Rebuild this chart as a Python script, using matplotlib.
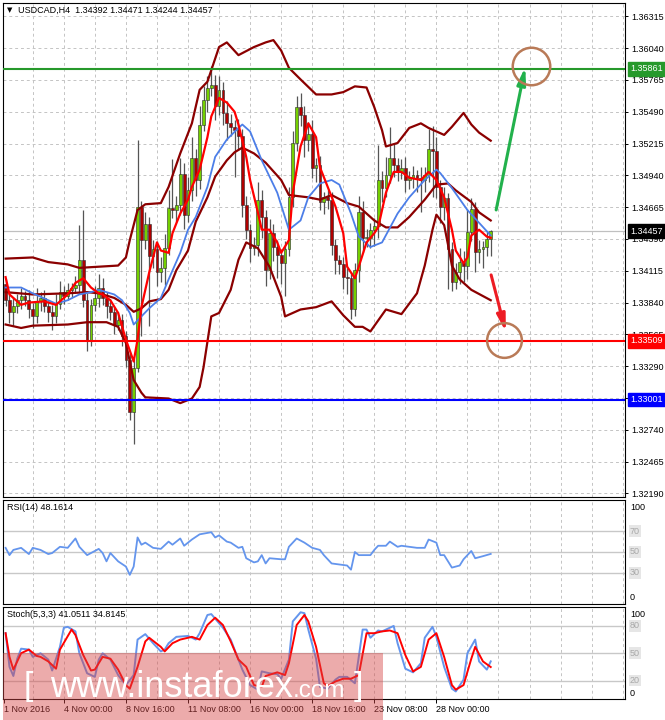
import matplotlib
matplotlib.use("Agg")
import matplotlib.pyplot as plt
import matplotlib.transforms as mtransforms
from matplotlib.patches import Rectangle

plt.rcParams['font.family'] = ['Liberation Sans', 'DejaVu Sans']

# ---- price data (USDCAD H4) ----
first_open = 1.3400
closes = [
    1.3386, 1.3376, 1.3381, 1.3386, 1.3390, 1.3386, 1.3378, 1.3372, 1.3385, 1.3388,
    1.3381, 1.3376, 1.3372, 1.3383, 1.3393, 1.3390, 1.3395, 1.3397, 1.3399, 1.3421,
    1.3386, 1.3352, 1.3382, 1.3388, 1.3397, 1.3388, 1.3381, 1.3376, 1.3365, 1.3369,
    1.3355, 1.3334, 1.3289, 1.3327, 1.3467, 1.3438, 1.3452, 1.3424, 1.3430, 1.3410,
    1.3414, 1.3431, 1.3466, 1.3464, 1.3468, 1.3495, 1.3460, 1.3481, 1.3509, 1.3490,
    1.3538, 1.3559, 1.3570, 1.3572, 1.3554, 1.3568, 1.3548, 1.3539, 1.3536, 1.3533,
    1.3528, 1.3468, 1.3447, 1.3431, 1.3434, 1.3473, 1.3458, 1.3412, 1.3444, 1.3432,
    1.3425, 1.3418, 1.3430, 1.3475, 1.3522, 1.3553, 1.3546, 1.3525, 1.3530, 1.3500,
    1.3503, 1.3471, 1.3475, 1.3473, 1.3434, 1.3421, 1.3417, 1.3406, 1.3405, 1.3378,
    1.3412, 1.3462, 1.3440, 1.3440, 1.3447, 1.3450, 1.3490, 1.3483, 1.3494, 1.3509,
    1.3503, 1.3497, 1.3500, 1.3490, 1.3492, 1.3494, 1.3492, 1.3490, 1.3494, 1.3517,
    1.3515, 1.3484, 1.3467, 1.3474, 1.3430, 1.3402, 1.3410, 1.3419, 1.3416, 1.3445,
    1.3465, 1.3428, 1.3430, 1.3432, 1.34392, 1.34457,
]
# wick length above / below the body, in pips
wick_hi = [
    4, 6, 8, 5, 7, 4, 9, 6, 12, 5,
    7, 4, 6, 8, 10, 5, 6, 4, 8, 30,
    43, 6, 5, 10, 12, 8, 5, 6, 4, 7,
    5, 4, 6, 8, 58, 5, 10, 6, 8, 7,
    9, 12, 15, 42, 8, 14, 10, 12, 18, 8,
    16, 12, 10, 17, 9, 12, 7, 10, 8, 6,
    10, 6, 8, 5, 7, 15, 8, 6, 12, 8,
    6, 5, 7, 9, 10, 10, 12, 8, 10, 12,
    6, 8, 5, 6, 7, 5, 4, 6, 8, 5,
    6, 14, 10, 8, 6, 7, 30, 8, 16, 27,
    12, 6, 8, 10, 6, 8, 5, 9, 7, 17,
    20, 12, 6, 10, 5, 6, 8, 12, 10, 20,
    9, 6, 8, 5, 7, 1.4,
]
wick_lo = [
    5, 10, 12, 6, 8, 5, 7, 10, 6, 8,
    5, 9, 12, 6, 5, 7, 4, 6, 5, 8,
    6, 10, 6, 5, 8, 6, 10, 7, 8, 5,
    9, 6, 7, 27, 3, 83, 8, 60, 10, 12,
    8, 15, 6, 7, 10, 8, 12, 6, 9, 14,
    8, 6, 10, 7, 12, 8, 10, 14, 8, 40,
    12, 10, 8, 12, 6, 10, 18, 14, 8, 12,
    20, 18, 28, 6, 8, 7, 9, 15, 10, 8,
    12, 7, 10, 8, 9, 12, 8, 10, 14, 8,
    6, 10, 12, 8, 9, 14, 10, 12, 8, 7,
    10, 8, 6, 10, 8, 9, 12, 28, 10, 6,
    40, 10, 14, 12, 34, 8, 6, 10, 14, 12,
    8, 18, 10, 16, 8, 14.8,
]

# ---- indicator lines (bar index, value) ----
bb_up_i = [0, 7, 11, 16, 19, 24, 29, 31, 32, 34, 36, 40, 42, 45, 48, 50, 52, 53, 55, 57,
           60, 64, 67, 69, 71, 73, 76, 80, 84, 87, 90, 93, 95, 97, 98, 101, 104, 107, 109, 113,
           115, 118, 120, 122, 125]
bb_up = [1.3422, 1.3423, 1.3419, 1.3417, 1.3414, 1.3415, 1.3416, 1.3423, 1.3438, 1.3464,
         1.3469, 1.3470, 1.3484, 1.3513, 1.3539, 1.3568, 1.3575, 1.3585, 1.3605, 1.3609,
         1.3598, 1.3605, 1.3609, 1.3611, 1.3602, 1.3587, 1.3577, 1.3564, 1.3564, 1.3566,
         1.3571, 1.3570, 1.3553, 1.3533, 1.3519, 1.3522, 1.3535, 1.3539, 1.3535, 1.3529,
         1.3536, 1.3548, 1.3538, 1.3531, 1.3524]
bb_mid_i = [0, 7, 16, 21, 24, 28, 31, 33, 35, 37, 40, 42, 44, 47, 49, 52, 54, 57, 59, 61,
            64, 67, 71, 73, 78, 81, 84, 88, 91, 95, 98, 101, 104, 108, 111, 114, 116, 120, 122, 125]
bb_mid = [1.3393, 1.3391, 1.3392, 1.3393, 1.3392, 1.3388, 1.3382, 1.3376, 1.3379, 1.3385,
          1.3387, 1.3395, 1.3412, 1.3429, 1.3454, 1.3475, 1.3493, 1.3507, 1.3514, 1.3518,
          1.3513, 1.3505, 1.3490, 1.3477, 1.3475, 1.3473, 1.3477, 1.3470, 1.3467, 1.3455,
          1.3449, 1.3449, 1.3458, 1.3473, 1.3486, 1.3487, 1.3481, 1.3471, 1.3462, 1.3455]
bb_lo_i = [0, 4, 7, 16, 21, 26, 29, 31, 33, 35, 36, 42, 45, 48, 50, 51, 53, 55, 58, 60,
           62, 65, 68, 71, 72, 76, 80, 84, 87, 90, 92, 94, 98, 102, 106, 108, 110, 111, 113, 114,
           115, 117, 120, 125]
bb_lo = [1.3365, 1.3362, 1.3364, 1.3365, 1.3367, 1.3367, 1.3363, 1.3349, 1.3317, 1.3306,
         1.3302, 1.3301, 1.3297, 1.3301, 1.3311, 1.3328, 1.3372, 1.3375, 1.3395, 1.3421,
         1.3436, 1.3431, 1.3415, 1.3389, 1.3372, 1.3378, 1.3380, 1.3385, 1.3373, 1.3363,
         1.3363, 1.3359, 1.3378, 1.3374, 1.3392, 1.3416, 1.3447, 1.3460, 1.3451, 1.3434,
         1.3416, 1.3404, 1.3395, 1.3386]
blue_i = [0, 4, 7, 11, 13, 16, 19, 22, 24, 28, 30, 32, 33, 35, 37, 40, 42, 45, 47, 49,
          52, 54, 57, 60, 61, 63, 66, 70, 73, 76, 78, 81, 84, 86, 89, 91, 94, 97, 101, 104,
          108, 111, 112, 115, 119, 122, 125]
blue_ma = [1.3397, 1.3397, 1.3392, 1.3386, 1.3383, 1.3386, 1.3391, 1.3393, 1.3395, 1.3391,
           1.3386, 1.3375, 1.3365, 1.3372, 1.3379, 1.3388, 1.3404, 1.3427, 1.3447, 1.3458,
           1.3484, 1.3510, 1.3525, 1.3535, 1.3538, 1.3532, 1.3507, 1.3479, 1.3447, 1.3455,
           1.3475, 1.3487, 1.3490, 1.3486, 1.3461, 1.3441, 1.3432, 1.3436, 1.3461, 1.3475,
           1.3490, 1.3499, 1.3496, 1.3483, 1.3464, 1.3453, 1.3442]
red_i = [0, 1, 4, 6, 10, 13, 16, 18, 20, 22, 24, 25, 27, 29, 31, 33, 34, 35, 37, 39,
         40, 42, 43, 45, 47, 48, 50, 52, 53, 55, 57, 59, 60, 62, 63, 65, 66, 68, 70, 71,
         73, 74, 76, 78, 80, 81, 83, 85, 87, 88, 90, 91, 93, 95, 96, 98, 100, 102, 104, 107,
         109, 111, 113, 115, 116, 118, 119, 120, 122, 124, 125]
red_ma = [1.3406, 1.3391, 1.3382, 1.3384, 1.3385, 1.3382, 1.3391, 1.3401, 1.3405, 1.3397,
          1.3392, 1.3391, 1.3386, 1.3375, 1.3352, 1.3333, 1.3352, 1.3380, 1.3410, 1.3436,
          1.3429, 1.3427, 1.3444, 1.3461, 1.3473, 1.3484, 1.3499, 1.3527, 1.3545, 1.3561,
          1.3557, 1.3549, 1.3538, 1.3510, 1.3490, 1.3462, 1.3447, 1.3447, 1.3436, 1.3427,
          1.3438, 1.3479, 1.3519, 1.3539, 1.3527, 1.3501, 1.3484, 1.3467, 1.3444, 1.3415,
          1.3405, 1.3415, 1.3436, 1.3444, 1.3449, 1.3479, 1.3497, 1.3497, 1.3492, 1.3490,
          1.3497, 1.3490, 1.3475, 1.3447, 1.3429, 1.3418, 1.3423, 1.3442, 1.3447, 1.3441,
          1.3440]

rsi_i = [0, 1, 2, 4, 6, 7, 9, 11, 12, 14, 16, 18, 19, 21, 24, 25, 26, 27, 29, 31,
         32, 33, 34, 35, 36, 38, 40, 42, 43, 45, 46, 48, 50, 53, 54, 55, 57, 58, 60, 61,
         62, 64, 65, 66, 67, 68, 71, 72, 73, 75, 77, 79, 81, 82, 84, 86, 88, 89, 90, 91,
         94, 95, 96, 98, 99, 101, 102, 104, 106, 108, 109, 111, 112, 113, 115, 117, 118, 120, 121, 123,
         125]
rsi = [54, 47, 52, 54, 48, 54, 52, 48, 49, 55, 54, 63, 55, 47, 53, 49, 41, 49, 41, 36,
       28, 36, 64, 57, 59, 54, 53, 60, 57, 63, 56, 62, 67, 69, 64, 66, 60, 59, 54, 55,
       44, 40, 41, 47, 39, 44, 43, 43, 55, 63, 59, 54, 52, 47, 39, 38, 37, 33, 50, 47,
       47, 52, 56, 56, 60, 55, 56, 55, 54, 54, 62, 59, 47, 47, 35, 37, 43, 51, 44, 46,
       48.1614]

k_i = [0, 1, 2, 3, 4, 6, 7, 9, 11, 12, 14, 15, 16, 18, 19, 21, 23, 24, 25, 27,
       29, 31, 33, 34, 36, 38, 40, 41, 42, 44, 47, 49, 50, 52, 53, 56, 58, 60, 61, 63,
       65, 66, 68, 70, 71, 73, 74, 76, 77, 78, 80, 81, 83, 85, 86, 88, 90, 91, 92, 93,
       94, 96, 97, 100, 101, 103, 105, 107, 108, 110, 111, 113, 115, 116, 118, 119, 121, 122, 124, 125]
stoch_k = [72, 35, 25, 44, 55, 54, 46, 50, 43, 31, 57, 78, 79, 74, 50, 28, 24, 43, 50, 43,
           26, 15, 26, 65, 71, 61, 52, 54, 61, 68, 69, 65, 72, 92, 93, 78, 65, 43, 32, 15,
           10, 30, 28, 27, 22, 43, 85, 95, 94, 76, 44, 13, 11, 21, 24, 24, 17, 46, 76, 76,
           67, 75, 74, 80, 61, 33, 29, 39, 67, 79, 68, 35, 11, 8, 21, 50, 65, 41, 32, 41.0511]
d_i = [0, 1, 2, 4, 6, 8, 9, 11, 13, 14, 17, 18, 20, 22, 23, 25, 27, 29, 31, 32,
       34, 36, 37, 40, 41, 43, 45, 48, 50, 52, 54, 56, 58, 60, 62, 64, 66, 67, 70, 72,
       73, 75, 77, 78, 80, 82, 83, 85, 87, 89, 91, 93, 95, 97, 99, 101, 103, 105, 107, 109,
       111, 113, 115, 116, 118, 120, 121, 123, 125]
stoch_d = [72, 46, 32, 50, 54, 47, 46, 41, 33, 54, 76, 70, 48, 31, 32, 46, 44, 32, 15, 11,
           35, 63, 67, 57, 52, 61, 65, 68, 65, 81, 89, 81, 63, 43, 35, 15, 13, 25, 29, 26,
           39, 81, 92, 85, 57, 17, 14, 19, 22, 22, 26, 72, 72, 74, 75, 72, 48, 30, 35, 65,
           72, 46, 15, 10, 15, 44, 57, 41, 34.8145]

# ---- levels and axis labels ----
resistance = 1.35861
support = 1.33509
support2 = 1.33001
price_ticks = [1.32190, 1.32465, 1.32740, 1.33015, 1.33290, 1.33565, 1.33840, 1.34115,
               1.34390, 1.34665, 1.34940, 1.35215, 1.35490, 1.35765, 1.36040, 1.36315]
hidden_ticks = [1.33015]   # sits under the blue level box
date_pos = [-0.5, 15, 31, 47, 63, 79, 95, 111]
date_labels = ['1 Nov 2016', '4 Nov 00:00', '8 Nov 16:00', '11 Nov 08:00',
               '16 Nov 00:00', '18 Nov 16:00', '23 Nov 08:00', '28 Nov 00:00']

opens = [first_open] + closes[:-1]
bars = list(range(len(closes)))
pip = 0.0001
highs = [max(o, c) + w * pip for o, c, w in zip(opens, closes, wick_hi)]
lows = [min(o, c) - w * pip for o, c, w in zip(opens, closes, wick_lo)]

W, H = 665, 720
fig = plt.figure(figsize=(W / 100, H / 100), dpi=100)
fig.patch.set_facecolor('white')


def px_axes(left, top, right, bottom):
    return fig.add_axes([left / W, 1 - bottom / H, (right - left) / W, (bottom - top) / H])


ax = px_axes(3, 3, 625, 497)
ax_rsi = px_axes(3, 500, 625, 604)
ax_st = px_axes(3, 607, 625, 699)

XMIN, XMAX = -0.67, 159.6
grid_x = list(range(7, 160, 8))
FS = 6.5

for a in (ax, ax_rsi, ax_st):
    a.set_xlim(XMIN, XMAX)
    for s in a.spines.values():
        s.set_color('black')
        s.set_linewidth(0.8)
    for gx in grid_x:
        a.axvline(gx, color='#c4c4c4', lw=0.7, ls=(0, (3, 3)), zorder=0)
    a.tick_params(axis='x', bottom=False, labelbottom=False)

# ---- main price panel ----
ax.set_ylim(1.32158, 1.36431)
ax.yaxis.tick_right()
ax.set_yticks(price_ticks)
ax.set_yticklabels(['' if p in hidden_ticks else f'{p:.5f}' for p in price_ticks], fontsize=FS)
ax.tick_params(axis='y', length=2.5, width=0.7, pad=2)
for p in price_ticks:
    ax.axhline(p, color='#c4c4c4', lw=0.7, ls=(0, (3, 3)), zorder=0)

# current price line
ax.axhline(closes[-1], color='#c0c0c0', lw=0.9, zorder=1)

ax.vlines(bars, lows, highs, color='#555555', lw=0.9, zorder=2)
for x, o, c in zip(bars, opens, closes):
    up = c >= o
    h = max(abs(c - o), 0.00004)
    ax.bar(x, h, bottom=min(o, c), width=0.72,
           color='#74d000' if up else '#b00000',
           edgecolor='#2a2a2a', linewidth=0.4, zorder=3)

ax.plot(bb_up_i, bb_up, color='#8b0000', lw=1.6, zorder=4)
ax.plot(bb_mid_i, bb_mid, color='#8b0000', lw=1.6, zorder=4)
ax.plot(bb_lo_i, bb_lo, color='#8b0000', lw=1.6, zorder=4)
ax.plot(blue_i, blue_ma, color='#4c7ee8', lw=1.3, zorder=4)
ax.plot(red_i, red_ma, color='#ff0000', lw=1.6, zorder=4)

ax.axhline(resistance, color='#26992b', lw=1.5, zorder=5)
ax.axhline(support, color='#ff0000', lw=1.5, zorder=5)
ax.axhline(support2, color='#0000ff', lw=1.5, zorder=5)

# hand drawn targets
ax.annotate('', xy=(133.9, 1.35878), xytext=(126.4, 1.34641),
            arrowprops=dict(arrowstyle='-|>,head_length=1.0,head_width=0.25',
                            color='#22b14c', lw=2.2, shrinkA=0, shrinkB=0), zorder=6)
ax.annotate('', xy=(128.9, 1.33586), xytext=(125.1, 1.34079),
            arrowprops=dict(arrowstyle='-|>,head_length=1.0,head_width=0.25',
                            color='#ed1c24', lw=2.2, shrinkA=0, shrinkB=0), zorder=6)
ax.plot([135.4], [1.35886], marker='o', ms=27, mfc='none', mec='#b97a57', mew=1.8, zorder=6)
ax.plot([128.4], [1.33516], marker='o', ms=25, mfc='none', mec='#b97a57', mew=1.8, zorder=6)

lab_tr = mtransforms.blended_transform_factory(ax.transAxes, ax.transData)
for val, col in ((resistance, '#26992b'), (support, '#ff0000'),
                 (support2, '#0000ff'), (closes[-1], '#000000')):
    ax.text(1.0085, val, f'{val:.5f}', transform=lab_tr, fontsize=FS, color='white',
            ha='left', va='center', clip_on=False, zorder=10,
            bbox=dict(boxstyle='square,pad=0.25', fc=col, ec=col))

ax.text(0.006, 0.986, '\u25bc', transform=ax.transAxes, fontsize=5,
        family='DejaVu Sans', va='center', ha='left')
ax.text(0.024, 0.986,
        f'USDCAD,H4  {opens[-1]:.5f} {highs[-1]:.5f} {lows[-1]:.5f} {closes[-1]:.5f}',
        transform=ax.transAxes, fontsize=FS, va='center', ha='left')

# ---- RSI panel ----
ax_rsi.set_ylim(0, 100)
ax_rsi.set_yticks([])
for lv in (30, 50, 70):
    ax_rsi.axhline(lv, color='#c8c8c8', lw=1.0, zorder=1)
ax_rsi.plot(rsi_i, rsi, color='#6495ed', lw=1.3, zorder=3)
ax_rsi.text(0.0065, 0.93, f'RSI(14) {rsi[-1]:.4f}', transform=ax_rsi.transAxes,
            fontsize=FS, va='center', ha='left')
rsi_tr = mtransforms.blended_transform_factory(ax_rsi.transAxes, ax_rsi.transData)
for val, pos in ((100, 93), (0, 6)):
    ax_rsi.text(1.008, pos, str(val), transform=rsi_tr, fontsize=FS, va='center', clip_on=False)
for val in (70, 50, 30):
    ax_rsi.text(1.008, val, str(val), transform=rsi_tr, fontsize=FS, va='center',
                color='#a8a8a8', clip_on=False,
                bbox=dict(boxstyle='square,pad=0.15', fc='#e6e6e6', ec='none'))

# ---- Stochastic panel ----
ax_st.set_ylim(-0.3, 100.8)
ax_st.set_yticks([])
for lv in (20, 50, 80):
    ax_st.axhline(lv, color='#c8c8c8', lw=1.0, zorder=1)
ax_st.plot(k_i, stoch_k, color='#6495ed', lw=1.4, zorder=3)
ax_st.plot(d_i, stoch_d, color='#ff0000', lw=1.4, zorder=4)
ax_st.text(0.0065, 0.92, f'Stoch(5,3,3) {stoch_k[-1]:.4f} {stoch_d[-1]:.4f}',
           transform=ax_st.transAxes, fontsize=FS, va='center', ha='left')
st_tr = mtransforms.blended_transform_factory(ax_st.transAxes, ax_st.transData)
for val, pos in ((100, 93), (0, 6)):
    ax_st.text(1.008, pos, str(val), transform=st_tr, fontsize=FS, va='center', clip_on=False)
for val in (80, 50, 20):
    ax_st.text(1.008, val, str(val), transform=st_tr, fontsize=FS, va='center',
               color='#a8a8a8', clip_on=False,
               bbox=dict(boxstyle='square,pad=0.15', fc='#e6e6e6', ec='none'))

ax_st.set_xticks(date_pos)
ax_st.set_xticklabels(date_labels, fontsize=FS, ha='left')
ax_st.tick_params(axis='x', bottom=True, labelbottom=True, length=3, width=0.7, pad=1.5)

# ---- watermark ----
fig.patches.append(Rectangle((3 / W, 0), 380 / W, 67 / H, transform=fig.transFigure,
                             facecolor='#d64545', alpha=0.45, edgecolor='none', zorder=20))
base = 1 - 697 / H
fig.text(24 / W, 1 - 695 / H, '[', fontsize=24, color='white', va='baseline', zorder=21)
t1 = fig.text(50 / W, base, 'www.instaforex', fontsize=26, color='white',
              va='baseline', zorder=21)
fig.canvas.draw()
ext = t1.get_window_extent(renderer=fig.canvas.get_renderer())
fig.text(ext.x1 / W, base, '.com', fontsize=17.5, color='white', va='baseline', zorder=21)
fig.text(354 / W, 1 - 695 / H, ']', fontsize=24, color='white', va='baseline', zorder=21)

fig.savefig('out.png', dpi=100)
